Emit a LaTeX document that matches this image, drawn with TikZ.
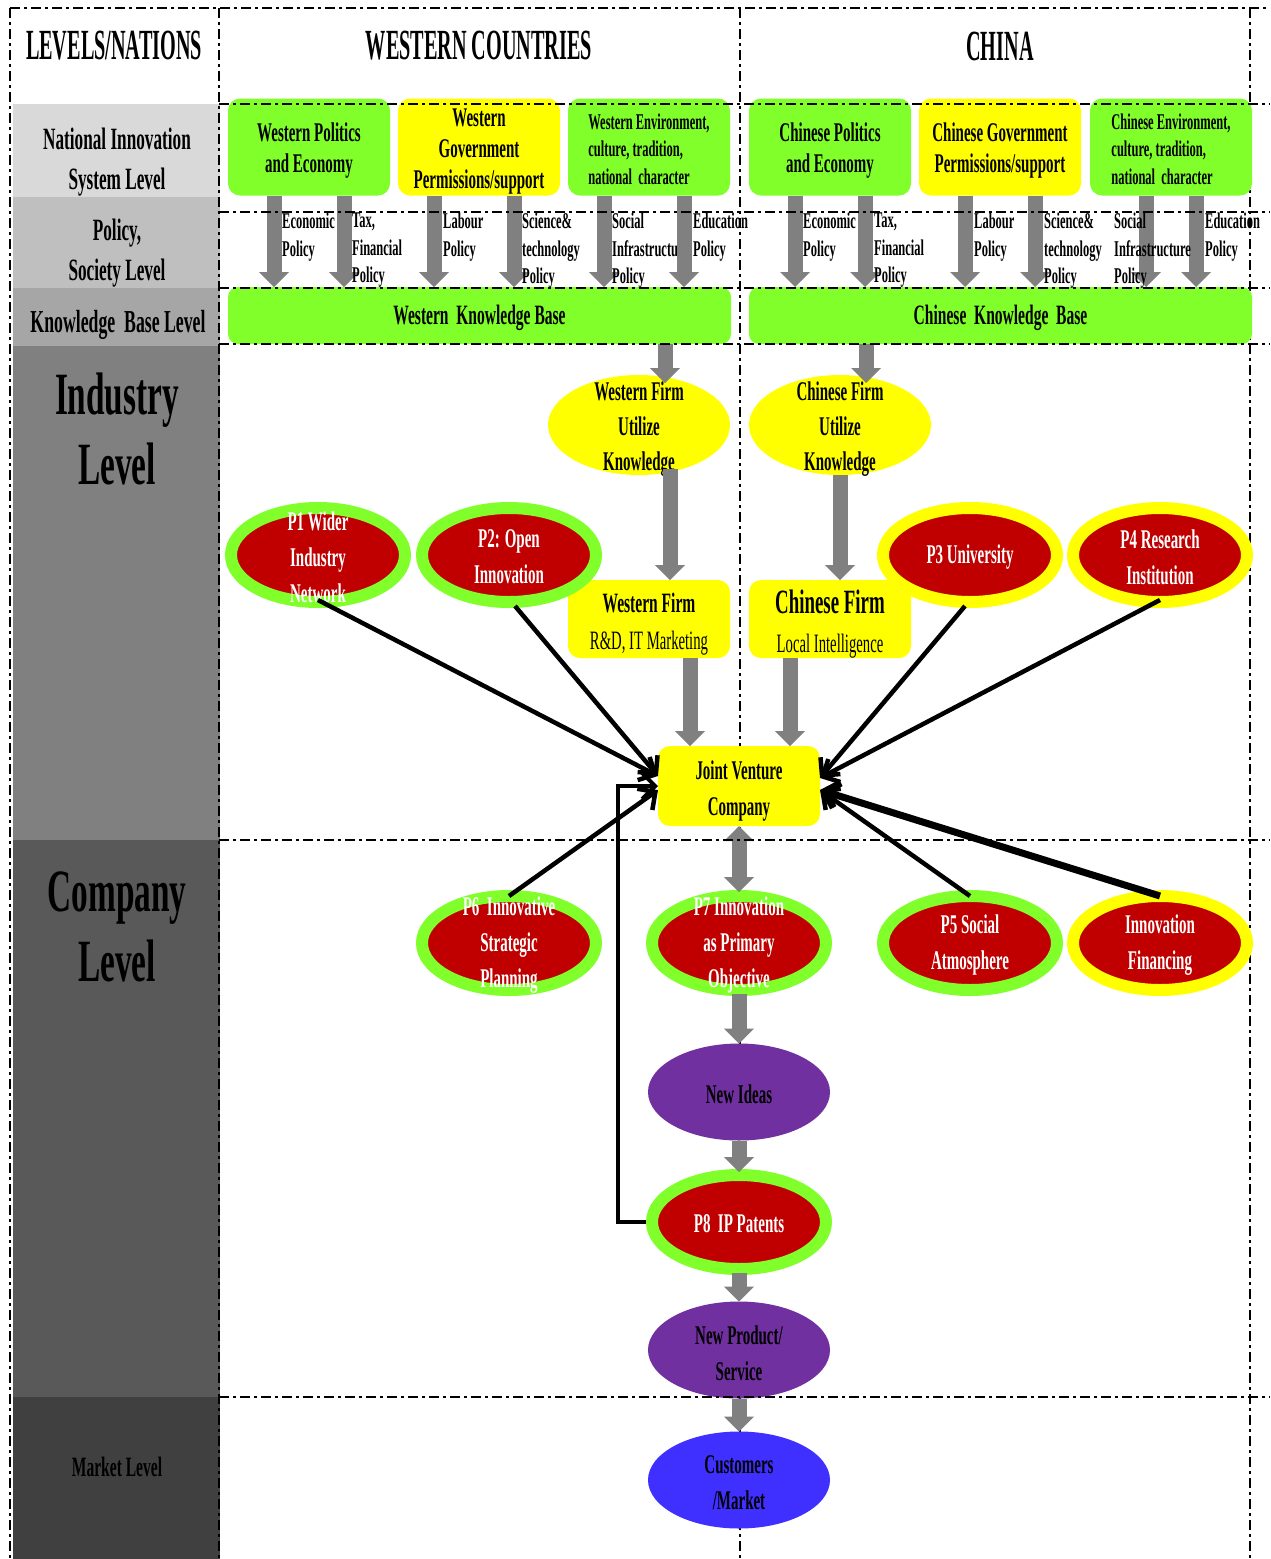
\documentclass[tikz,border=0pt]{standalone}
\usepackage{fontspec}
\setmainfont{Liberation Serif}[FakeStretch=0.555]
\newfontfamily\hdfont{Liberation Serif}[FakeStretch=0.47]
\usetikzlibrary{arrows.meta,shapes.geometric,calc}
\definecolor{gr}{RGB}{128,255,42}
\definecolor{yl}{RGB}{255,255,0}
\definecolor{rd}{RGB}{192,0,0}
\definecolor{pu}{RGB}{112,48,160}
\definecolor{bu}{RGB}{64,48,255}
\definecolor{ga}{RGB}{128,128,128}
\definecolor{lvA}{RGB}{217,217,217}
\definecolor{lvB}{RGB}{191,191,191}
\definecolor{lvC}{RGB}{166,166,166}
\definecolor{lvD}{RGB}{128,128,128}
\definecolor{lvE}{RGB}{89,89,89}
\definecolor{lvF}{RGB}{64,64,64}
\newcommand{\fsz}[2]{\fontsize{#1}{#2}\selectfont}
\begin{document}
\begin{tikzpicture}[x=1pt,y=-1pt,
  dd/.style={line width=2.6pt, dash pattern=on 10pt off 4pt on 3pt off 4pt},
  hd/.style={inner sep=0pt, font=\hdfont\bfseries\fsz{43}{46}},
  lv/.style={inner sep=0pt, align=center, font=\bfseries\fsz{31}{40}},
  lvbig/.style={inner sep=0pt, align=center, font=\bfseries\fsz{60}{70}},
  tx/.style={inner sep=0pt, align=center, font=\bfseries\fsz{27}{31}},
  envtx/.style={inner sep=0pt, align=left, font=\bfseries\fsz{22.5}{27.5}},
  topbox/.style={rounded corners=12pt, minimum width=162pt, minimum height=97pt, inner sep=0pt, outer sep=0pt},
  kbox/.style={rounded corners=10pt, fill=gr, minimum width=503pt, minimum height=57pt, inner sep=0pt, outer sep=0pt},
  pol/.style={anchor=north west, align=left, inner sep=0pt, font=\bfseries\fsz{22.5}{27.5}},
  garrow/.style={draw=ga, line width=15pt, -{Triangle[length=15pt,width=30pt,line width=0pt]}},
  gdarrow/.style={draw=ga, line width=15pt, {Triangle[length=15pt,width=30pt,line width=0pt]}-{Triangle[length=15pt,width=30pt,line width=0pt]}},
  barrow/.style={draw=black, line width=4.5pt, -{Straight Barb[length=13pt,width=26pt]}},
  yell/.style={ellipse, fill=yl, minimum width=182pt, minimum height=100pt, inner sep=0pt, outer sep=0pt},
  ftext/.style={align=center, inner sep=0pt, font=\bfseries\fsz{27}{35}},
  fbox/.style={rounded corners=12pt, fill=yl, minimum width=162pt, minimum height=78pt, inner sep=0pt, outer sep=0pt},
  jvbox/.style={rounded corners=12pt, fill=yl, minimum width=162pt, minimum height=80pt, inner sep=0pt, outer sep=0pt},
  pell/.style={ellipse, fill=rd, line width=12pt, minimum width=174pt, minimum height=94pt, inner sep=0pt, outer sep=0pt},
  gring/.style={pell, draw=gr},
  yring/.style={pell, draw=yl},
  ptext/.style={text=white, align=center, inner sep=0pt, font=\bfseries\fsz{27}{36}},
  oell/.style={ellipse, minimum width=182pt, minimum height=97pt, inner sep=0pt, outer sep=0pt},
  otext/.style={align=center, inner sep=0pt, font=\bfseries\fsz{27}{36}},
]
\useasboundingbox (0,0) rectangle (1270,1559);
\fill[white] (0,0) rectangle (1270,1559);

% left level bands
\fill[lvA] (13,104) rectangle (220,197);
\fill[lvB] (13,197) rectangle (220,288);
\fill[lvC] (13,288) rectangle (220,346);
\fill[lvD] (13,346) rectangle (220,840);
\fill[lvE] (13,840) rectangle (220,1397);
\fill[lvF] (13,1397) rectangle (220,1559);

% vertical frame lines
\draw[dd] (10,8) -- (1268,8);
\draw[dd] (10,8) -- (10,1559);
\draw[dd] (219,8) -- (219,1559);
\draw[dd] (740,8) -- (740,1559);
\draw[dd] (1250,8) -- (1250,1559);

% headers
\node[hd] (hlev) at (114,46) {LEVELS/NATIONS};
\node[hd] (hwest) at (479,46) {WESTERN COUNTRIES};
\node[hd] (hchina) at (1000,46) {CHINA};

% level labels
\node[lv] (lnis) at (117,162) {National Innovation\\System Level};
\node[lv] (lpol) at (117,253) {Policy,\\Society Level};
\node[lv, font=\bfseries\fsz{32}{30}] (lkb) at (118,325) {Knowledge\ \ Base Level};
\node[lvbig] (lind) at (117,429) {Industry\\Level};
\node[lvbig] (lcom) at (117,927) {Company\\Level};
\node[lv, font=\bfseries\fsz{28}{30}] (lmk) at (117,1467) {Market Level};

% national level boxes
\node[topbox, fill=gr] (wpe) at (309,147) {};
\node[tx] (wpet) at ($(wpe)+(0,4)$) {Western Politics\\and Economy};
\node[topbox, fill=yl] (wgp) at (479,147) {};
\node[tx] (wgpt) at ($(wgp)+(0,5)$) {Western\\Government\\Permissions/support};
\node[topbox, fill=gr] (wen) at (649,147) {};
\node[envtx] (went) at ($(wen)+(0,2)$) {Western Environment,\\culture, tradition,\\national\ \ character};
\node[topbox, fill=gr] (cpe) at (830,147) {};
\node[tx] (cpet) at ($(cpe)+(0,4)$) {Chinese Politics\\and Economy};
\node[topbox, fill=yl] (cgp) at (1000,147) {};
\node[tx] (cgpt) at ($(cgp)+(0,4)$) {Chinese Government\\Permissions/support};
\node[topbox, fill=gr] (cen) at (1171,147) {};
\node[envtx] (cent) at ($(cen)+(0,2)$) {Chinese Environment,\\culture, tradition,\\national\ \ character};

% knowledge bases
\node[kbox] (wkb) at (479.5,315.5) {};
\node[tx, font=\bfseries\fsz{28}{30}] (wkbt) at ($(wkb)+(0,2)$) {Western\ \ Knowledge Base};
\node[kbox] (ckb) at (1000.5,315.5) {};
\node[tx, font=\bfseries\fsz{28}{30}] (ckbt) at ($(ckb)+(0,2)$) {Chinese\ \ Knowledge\ \ Base};

% policy arrows
\foreach \n/\s/\k in {wpe/-35/wkb, wpe/35/wkb, wgp/-45/wkb, wgp/35/wkb, wen/-45/wkb, cpe/-35/ckb, cpe/35/ckb, cgp/-35/ckb, cgp/35/ckb, cen/-25/ckb, cen/25/ckb}
  \draw[garrow] ($(\n.south)+(\s,0)$) -- ($(\n.south |- \k.north)+(\s,0)$);

% policy labels
\node[pol] (l1) at (282,213) {Economic\\Policy};
\node[pol] (l2) at (352,213) {Tax,\\Financial\\Policy};
\node[pol] (l3) at (443,213) {Labour\\Policy};
\node[pol] (l4) at (522,213) {Science\&\\technology\\Policy};
\node[pol] (l5) at (612,213) {Social\\Infrastructure\\Policy};
\node[pol] (l6) at (693,213) {Education\\Policy};
\node[pol] (l7) at (803,213) {Economic\\Policy};
\node[pol] (l8) at (874,213) {Tax,\\Financial\\Policy};
\node[pol] (l9) at (974,213) {Labour\\Policy};
\node[pol] (l10) at (1044,213) {Science\&\\technology\\Policy};
\node[pol] (l11) at (1114,213) {Social\\Infrastructure\\Policy};
\node[pol] (l12) at (1205,213) {Education\\Policy};
\draw[garrow] ($(wen.south)+(35,0)$) -- ($(wen.south |- wkb.north)+(35,0)$);

% firms
\node[yell] (wfu) at (639,425) {};
\node[ftext] (wfut) at ($(wfu)+(0,4)$) {Western Firm\\Utilize\\Knowledge};
\node[yell] (cfu) at (840,425) {};
\node[ftext] (cfut) at ($(cfu)+(0,4)$) {Chinese Firm\\Utilize\\Knowledge};
\node[fbox] (wfb) at (649,619) {};
\node[inner sep=0pt, align=center, font=\fsz{27}{37}] (wfbt) at ($(wfb)+(0,5)$) {{\bfseries\fsz{28}{37}Western Firm}\\{\fsz{26.5}{37}R\&D, IT Marketing}};
\node[fbox] (cfb) at (830,619) {};
\node[inner sep=0pt, align=center, font=\fsz{27}{39}] (cfbt) at ($(cfb)+(0,5)$) {{\bfseries\fsz{34}{39}Chinese Firm}\\{\fsz{26.5}{39}Local Intelligence}};
\node[jvbox] (jv) at (739,786) {};
\node[tx, font=\bfseries\fsz{27}{36}] (jvt) at ($(jv)+(0,5)$) {Joint Venture\\Company};

\draw[garrow] ($(wkb.south -| wfu.north)+(26,0)$) -- ($(wfu.north)+(26,8)$);
\draw[garrow] ($(ckb.south -| cfu.north)+(26,0)$) -- ($(cfu.north)+(26,8)$);
\draw[garrow] ($(wfu.south)+(31,-6)$) -- ($(wfb.north)+(21,0)$);
\draw[garrow] (cfu.south) -- ($(cfb.north)+(10,0)$);
\draw[garrow] ($(wfb.south)+(41,0)$) -- ($(jv.north)+(-49,0)$);
\draw[garrow] ($(cfb.south)+(-40,0)$) -- ($(jv.north)+(51,0)$);

% P ellipses
\node[gring] (p1) at (318,555) {};
\node[ptext] (p1t) at ($(p1)+(0,2)$) {P1 Wider\\Industry\\Network};
\node[gring] (p2) at (509,555) {};
\node[ptext] (p2t) at ($(p2)+(0,2)$) {P2: Open\\Innovation};
\node[yring] (p3) at (970,555) {};
\node[ptext] (p3t) at ($(p3)+(0,2)$) {P3 University};
\node[yring] (p4) at (1160,555) {};
\node[ptext] (p4t) at ($(p4)+(0,2)$) {P4 Research\\Institution};
\node[gring] (p6) at (509,943) {};
\node[ptext] (p6t) at ($(p6)+(0,2)$) {P6\ \ Innovative\\Strategic\\Planning};
\node[gring] (p7) at (739,943) {};
\node[ptext] (p7t) at ($(p7)+(0,2)$) {P7 Innovation\\as Primary\\Objective};
\node[gring] (p5) at (970,943) {};
\node[ptext] (p5t) at ($(p5)+(0,2)$) {P5 Social\\Atmosphere};
\node[yring] (pf) at (1160,943) {};
\node[ptext] (pft) at ($(pf)+(0,2)$) {Innovation\\Financing};
\node[gring] (p8) at (739,1222) {};
\node[ptext] (p8t) at ($(p8)+(0,2)$) {P8\ \ IP Patents};

% outcome ellipses
\node[oell, fill=pu] (nid) at (739,1092) {};
\node[otext] (nidt) at ($(nid)+(0,2)$) {New Ideas};
\node[oell, fill=pu] (npr) at (739,1350) {};
\node[otext] (nprt) at ($(npr)+(0,3)$) {New Product/\\Service};
\node[oell, fill=bu] (cus) at (739,1480) {};
\node[otext] (cust) at ($(cus)+(0,3)$) {Customers\\/Market};

% gray flow arrows
\draw[gdarrow] (jv.south) -- ($(p7.north)+(0,-4)$);
\draw[garrow] ($(p7.south)+(0,4)$) -- (nid.north);
\draw[garrow] (nid.south) -- ($(p8.north)+(0,-3)$);
\draw[garrow] ($(p8.south)+(0,4)$) -- (npr.north);
\draw[garrow] (npr.south) -- (cus.north);

% black arrows into JV
\draw[barrow] ($(p1.south)+(0,-2)$) -- ([yshift=10pt]jv.west);
\draw[barrow] ($(p2.south)+(6,4)$) -- ([yshift=10pt]jv.west);
\draw[barrow] (p6.north) -- ([yshift=-4pt]jv.west);
\draw[barrow] ($(p3.south)+(-5,4)$) -- ([yshift=8pt]jv.east);
\draw[barrow] ($(p4.south)+(0,-2)$) -- ([yshift=8pt]jv.east);
\draw[barrow] (p5.north) -- ([yshift=-4pt]jv.east);
\draw[barrow, line width=7pt] (pf.north) -- ([yshift=-4pt]jv.east);
\draw[barrow, line width=4pt] ($(p8.west)+(-6,0)$) -- ++(-28,0) |- (jv.west);

% horizontal level lines
\foreach \yy in {104,212,288,344,840,1397}
  \draw[dd] (219,\yy) -- (1270,\yy);
\end{tikzpicture}
\end{document}
